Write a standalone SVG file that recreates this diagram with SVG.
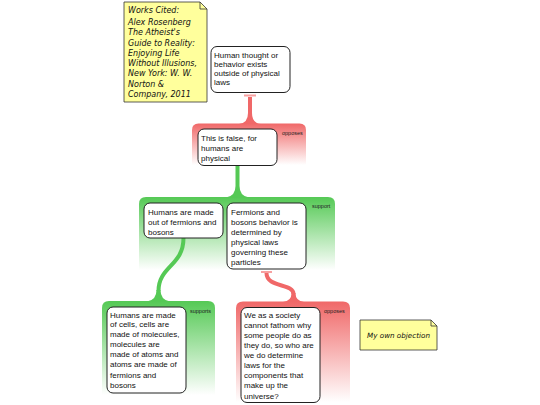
<svg xmlns="http://www.w3.org/2000/svg" width="540" height="405" viewBox="0 0 540 405">
<defs>
<linearGradient id="gRed" x1="0" y1="0" x2="0" y2="1"><stop offset="0" stop-color="#f06868"/><stop offset="1" stop-color="#ffffff"/></linearGradient>
<linearGradient id="gGreen" x1="0" y1="0" x2="0" y2="1"><stop offset="0" stop-color="#55c955"/><stop offset="1" stop-color="#ffffff"/></linearGradient>
<style>
.box{fill:#fff;stroke:#222;stroke-width:1}
.t{font-family:"Liberation Sans",Arial,sans-serif;font-size:8px;fill:#111}
.lbl{font-family:"Liberation Sans",Arial,sans-serif;font-size:5.5px;fill:#222}
.note{fill:#ffff9c;stroke:#333;stroke-width:0.8}
.nt{font-family:"DejaVu Sans",sans-serif;font-style:italic;font-size:8px;fill:#111}
.red{fill:#f06868}
.green{fill:#55c955}
.tm{stroke:#f7a0a0;stroke-width:2}
</style>
</defs>
<rect width="540" height="405" fill="#fff"/>

<g id="regions">
<path d="M192,165 L192,130 Q192,123.5 198.5,123.5 L299.5,123.5 Q306,123.5 306,130 L306,165 Z" fill="url(#gRed)"/>
<path d="M139,270 L139,204 Q139,197 146,197 L328,197 Q335,197 335,204 L335,270 Z" fill="url(#gGreen)"/>
<path d="M102,395 L102,308 Q102,301 109,301 L208,301 Q215,301 215,308 L215,395 Z" fill="url(#gGreen)"/>
<path d="M236,402 L236,308 Q236,301.5 243,301.5 L343,301.5 Q350,301.5 350,308 L350,402 Z" fill="url(#gRed)"/>
</g>

<g id="connectors">
<path class="red" d="M248,97 L248,113 Q248,123 239,124 L261,124 Q252,123 252,113 L252,97 Z"/>
<line class="tm" x1="244" y1="95.5" x2="256" y2="95.5"/>
<path class="green" d="M235.5,165 L235.5,186 Q235.5,196 226,197.5 L249,197.5 Q239.5,196 239.5,186 L239.5,165 Z"/>
<path d="M183.5,238 C183.5,266 158.5,266 158.5,291" fill="none" stroke="#55c955" stroke-width="4"/>
<path class="green" d="M156.5,290 Q156.5,300 147,301.5 L170,301.5 Q160.5,300 160.5,290 Z"/>
<path d="M266.5,273 C266.5,288 293.5,283 293.5,294" fill="none" stroke="#f06868" stroke-width="4"/>
<path class="red" d="M291.5,293 Q291.5,301 283,302 L304,302 Q295.5,301 295.5,293 Z"/>
<line class="tm" x1="261" y1="272" x2="272" y2="272"/>
</g>

<g id="note1">
<path class="note" d="M124,2 L200,2 L207,9 L207,102 L124,102 Z"/>
<path d="M200,2 L200,9 L207,9" fill="none" stroke="#333" stroke-width="0.8"/>
<text class="nt" x="128" y="13">Works Cited:</text>
<text class="nt" x="128" y="24.5">Alex Rosenberg</text>
<text class="nt" x="128" y="35">The Atheist's</text>
<text class="nt" x="128" y="45.5">Guide to Reality:</text>
<text class="nt" x="128" y="55.5">Enjoying Life</text>
<text class="nt" x="128" y="65.5">Without Illusions,</text>
<text class="nt" x="128" y="76">New York: W. W.</text>
<text class="nt" x="128" y="86.5">Norton &amp;</text>
<text class="nt" x="128" y="97">Company, 2011</text>
</g>

<g id="n1">
<rect class="box" x="211" y="46.5" width="79" height="46" rx="6"/>
<text class="t" x="214" y="58">Human thought or</text>
<text class="t" x="214" y="67">behavior exists</text>
<text class="t" x="214" y="76">outside of physical</text>
<text class="t" x="214" y="85">laws</text>
</g>

<g id="n2">
<rect class="box" x="198" y="129" width="79" height="36.5" rx="6"/>
<text class="t" x="201" y="140.5">This is false, for</text>
<text class="t" x="201" y="150.5">humans are</text>
<text class="t" x="201" y="160.5">physical</text>
<text class="lbl" x="282" y="135">opposes</text>
</g>

<g id="n3">
<rect class="box" x="144" y="203" width="79" height="35" rx="6"/>
<text class="t" x="148" y="214.5">Humans are made</text>
<text class="t" x="148" y="224.5">out of fermions and</text>
<text class="t" x="148" y="234.5">bosons</text>
<text class="lbl" x="312" y="208">support</text>
</g>

<g id="n4">
<rect class="box" x="227" y="203" width="79" height="66" rx="6"/>
<text class="t" x="231" y="214.5">Fermions and</text>
<text class="t" x="231" y="224.5">bosons behavior is</text>
<text class="t" x="231" y="234.5">determined by</text>
<text class="t" x="231" y="244.5">physical laws</text>
<text class="t" x="231" y="254.5">governing these</text>
<text class="t" x="231" y="264.5">particles</text>
</g>

<g id="n5">
<rect class="box" x="107" y="307" width="79" height="86" rx="6"/>
<text class="t" x="110" y="317.5">Humans are made</text>
<text class="t" x="110" y="327">of cells, cells are</text>
<text class="t" x="110" y="337">made of molecules,</text>
<text class="t" x="110" y="347">molecules are</text>
<text class="t" x="110" y="357">made of atoms and</text>
<text class="t" x="110" y="367">atoms are made of</text>
<text class="t" x="110" y="377.5">fermions and</text>
<text class="t" x="110" y="387.5">bosons</text>
<text class="lbl" x="190" y="313">supports</text>
</g>

<g id="n6">
<rect class="box" x="241" y="307.5" width="79" height="95" rx="6"/>
<text class="t" x="244" y="318">We as a society</text>
<text class="t" x="244" y="328">cannot fathom why</text>
<text class="t" x="244" y="338">some people do as</text>
<text class="t" x="244" y="348">they do, so who are</text>
<text class="t" x="244" y="358">we do determine</text>
<text class="t" x="244" y="368">laws for the</text>
<text class="t" x="244" y="378">components that</text>
<text class="t" x="244" y="388">make up the</text>
<text class="t" x="244" y="398.5">universe?</text>
<text class="lbl" x="324" y="313">opposes</text>
</g>

<g id="note2">
<path class="note" d="M360,320 L431,320 L437,326 L437,350 L360,350 Z"/>
<path d="M431,320 L431,326 L437,326" fill="none" stroke="#333" stroke-width="0.8"/>
<text class="nt" x="398.5" y="338" text-anchor="middle" style="font-size:7.2px">My own objection</text>
</g>
</svg>
